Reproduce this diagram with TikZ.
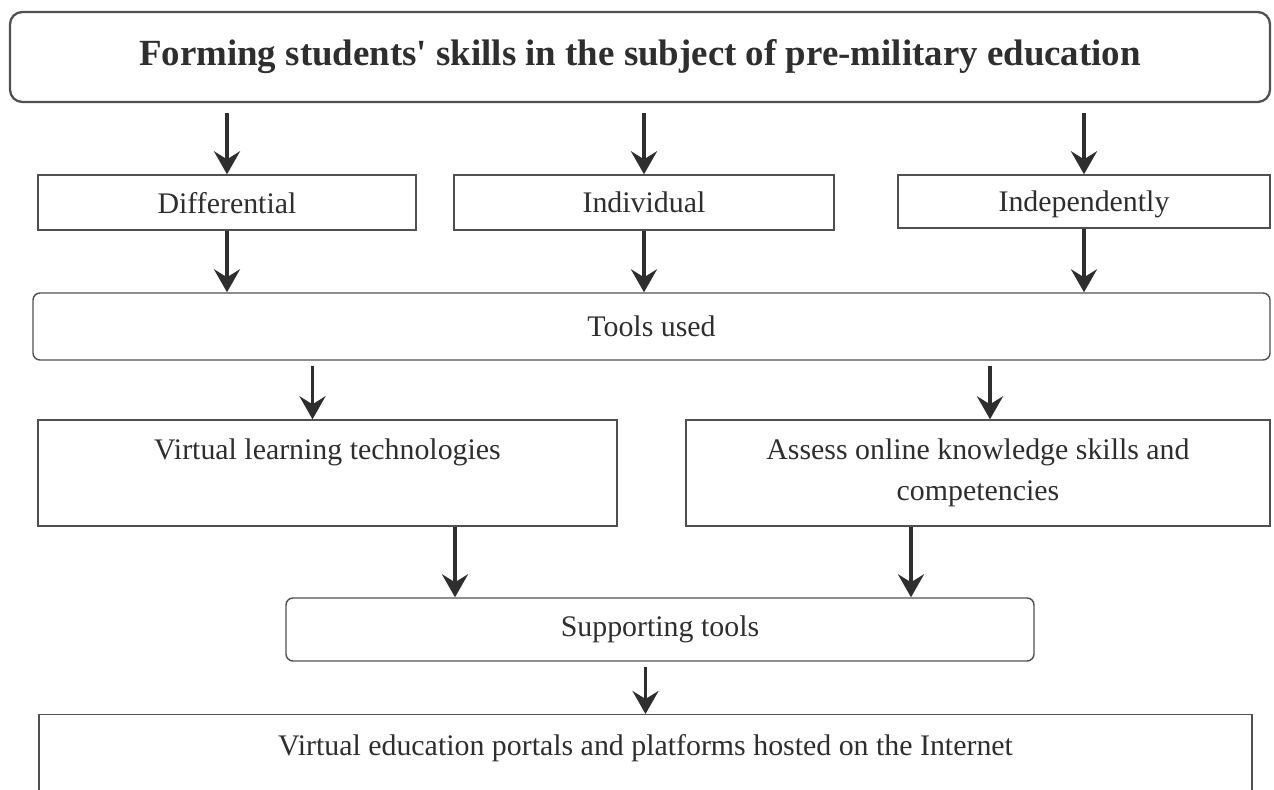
\documentclass[tikz,border=0pt]{standalone}
\usepackage{fontspec}
\setmainfont{Liberation Serif}
\usetikzlibrary{arrows.meta}
\definecolor{trait}{HTML}{505050}
\definecolor{encre}{HTML}{2E2E2E}

\begin{document}
\begin{tikzpicture}[x=1cm, y=1cm,
    cadre/.style={draw=trait, line width=0.8pt, inner sep=0pt, text=encre,
        font=\fontsize{17}{23.3}\selectfont},
    arrondi/.style={cadre, rounded corners=4pt},
    approche/.style={cadre, text depth=0pt},
    fleche/.style={draw=encre, line width=2.2pt,
        -{Stealth[length=4.6mm, width=5.2mm, inset=1.6mm]}}]

    % Le cadre de la figure
    \useasboundingbox (0,0) rectangle (25.48,15.78);

    % Le titre
    \node[arrondi, rounded corners=7pt, line width=1.3pt, minimum width=25.2cm,
        minimum height=1.8cm, font=\fontsize{21}{25}\selectfont\bfseries]
        (titre) at (12.8,14.64)
        {Forming students\textquotesingle{} skills in the subject of pre-military education};

    % Les trois approches
    \node[approche, minimum width=7.56cm, minimum height=1.1cm] (diff) at (4.54,11.73) {Differential};
    \node[approche, minimum width=7.6cm, minimum height=1.1cm] (indiv) at (12.88,11.73) {Individual};
    \node[approche, minimum width=7.44cm, minimum height=1.06cm] (indep) at (21.68,11.75) {Independently};

    % Les outils
    \node[arrondi, minimum width=24.74cm, minimum height=1.34cm] (outils) at (13.03,9.25) {Tools used};

    % Les deux technologies
    \node[cadre, minimum width=11.58cm, text height=0.8cm, text depth=1.32cm]
        (virt) at (6.55,6.32) {Virtual learning technologies};
    \node[cadre, minimum width=11.68cm, text height=0.8cm, text depth=1.32cm]
        (eval) at (19.56,6.32)
        {\begin{tabular}[t]{@{}c@{}}Assess online knowledge skills and\\ competencies\end{tabular}};

    % Les outils de soutien
    \node[arrondi, minimum width=14.96cm, minimum height=1.26cm] (soutien) at (13.2,3.19) {Supporting tools};

    % Les portails
    \node[cadre, anchor=north, minimum width=24.26cm, text height=0.82cm, text depth=1.2cm]
        (portail) at (12.91,1.5) {Virtual education portals and platforms hosted on the Internet};

    % Les fleches
    \foreach \n in {diff, indiv, indep} {
        \draw[fleche] ([yshift=-2mm]titre.south -| \n.north) -- (\n.north);
        \draw[fleche] (\n.south) -- (\n.south |- outils.north);
    }
    \draw[fleche] ([xshift=-3mm,yshift=-1mm]outils.south -| virt.north) -- ([xshift=-3mm]virt.north);
    \draw[fleche] ([xshift=2.4mm,yshift=-1mm]outils.south -| eval.north) -- ([xshift=2.4mm]eval.north);
    \draw[fleche] ([xshift=2.55cm]virt.south) -- ([xshift=2.55cm]virt.south |- soutien.north);
    \draw[fleche] ([xshift=-1.34cm]eval.south) -- ([xshift=-1.34cm]eval.south |- soutien.north);
    \draw[fleche] ([yshift=-1mm]soutien.south -| portail.north) -- (portail.north);
\end{tikzpicture}
\end{document}
